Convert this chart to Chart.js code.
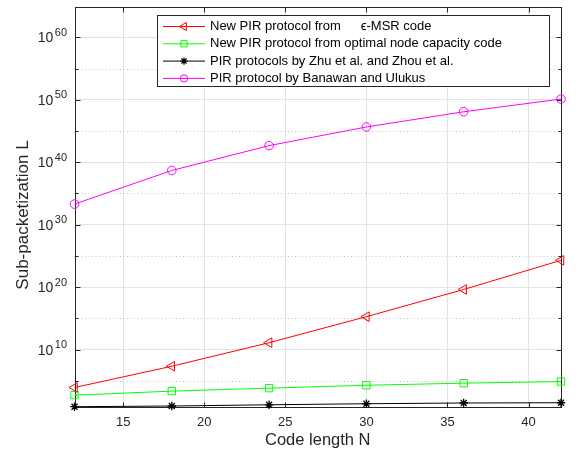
<!DOCTYPE html>
<html>
<head>
<meta charset="utf-8">
<script src="https://cdn.jsdelivr.net/npm/chart.js@4.4.1/dist/chart.umd.min.js"></script>
<style>
  html, body { margin: 0; padding: 0; background: #fff; }
  #wrap { width: 579px; height: 454px; }
</style>
</head>
<body>
<div id="wrap"><canvas id="pirChart" width="579" height="454"></canvas></div>
<script>
// data (sub-packetization L against code length N)
const codeLength = [12, 18, 24, 30, 36, 42];
const epsMsrL = [8.7e3, 2.2e7, 1.3e11, 1.9e15, 4.3e19, 2.0e24];
const nodeCapacityL = [5.2e2, 2.3e3, 6.9e3, 2.0e4, 4.3e4, 7.8e4];
const zhuZhouL = [7.4, 9.5, 15, 22, 29, 32];
const banawanL = [2.0e33, 4.8e38, 4.6e42, 4.4e45, 1.2e48, 1.3e50];

const xTicks = [15, 20, 25, 30, 35, 40];
const yMajorExp = [10, 20, 30, 40, 50, 60];
const yMinorExp = [5, 15, 25, 35, 45, 55];
const yRange = [7.4, 8.5e64];

const seriesNames = [
    'New PIR protocol from     ϵ-MSR code',
    'New PIR protocol from optimal node capacity code',
    'PIR protocols by Zhu et al. and Zhou et al.',
    'PIR protocol by Banawan and Ulukus'
];

const FONT = '"Liberation Sans", Arial, Helvetica, sans-serif';
const AXIS_COLOR = '#262626';

function series(label, values, color, style, radius, rotation, markerWidth) {
    return {
        label: label,
        data: codeLength.map((n, i) => ({ x: n, y: values[i] })),
        borderColor: color,
        backgroundColor: color,
        borderWidth: 1,
        tension: 0,
        pointStyle: style,
        pointRadius: radius,
        pointHoverRadius: radius,
        pointRotation: rotation || 0,
        pointBorderColor: color,
        pointBackgroundColor: 'rgba(0,0,0,0)',
        pointBorderWidth: markerWidth || 1,
        clip: false
    };
}

// marker for the hand drawn legend, same shapes as the points
function drawMarker(ctx, style, x, y, r, rotation) {
    ctx.beginPath();
    if (style === 'triangle') {
        const rad = rotation * Math.PI / 180;
        for (let k = 0; k < 3; k++) {
            const a = rad + k * 2 * Math.PI / 3;
            const px = x + Math.sin(a) * r, py = y - Math.cos(a) * r;
            k === 0 ? ctx.moveTo(px, py) : ctx.lineTo(px, py);
        }
        ctx.closePath();
    } else if (style === 'rect') {
        const s = Math.SQRT1_2 * r;
        ctx.rect(x - s, y - s, 2 * s, 2 * s);
    } else if (style === 'circle') {
        ctx.arc(x, y, r, 0, Math.PI * 2);
    } else if (style === 'star') {
        ctx.moveTo(x - r, y); ctx.lineTo(x + r, y);
        ctx.moveTo(x, y - r); ctx.lineTo(x, y + r);
        const d = r * Math.SQRT1_2;
        ctx.moveTo(x - d, y - d); ctx.lineTo(x + d, y + d);
        ctx.moveTo(x - d, y + d); ctx.lineTo(x + d, y - d);
    }
    ctx.stroke();
}

const datasets = [
    series(seriesNames[0], epsMsrL, '#ff0000', 'triangle', 5.5, -90),
    series(seriesNames[1], nodeCapacityL, '#00ff00', 'rect', 5.2, 0),
    series(seriesNames[2], zhuZhouL, '#000000', 'star', 4.2, 0, 1.3),
    series(seriesNames[3], banawanL, '#ff00ff', 'circle', 4.3, 0)
];

const matlabFrame = {
    id: 'matlabFrame',
    beforeDatasetsDraw(chart) {
        const { ctx, chartArea: a, scales } = chart;
        const x = scales.x, y = scales.y;
        ctx.save();
        // dotted minor grid
        ctx.strokeStyle = '#c2c2c2';
        ctx.lineWidth = 1;
        ctx.setLineDash([1, 2.5]);
        yMinorExp.forEach(e => {
            const py = Math.round(y.getPixelForValue(Math.pow(10, e))) + 0.5;
            ctx.beginPath();
            ctx.moveTo(a.left, py);
            ctx.lineTo(a.right, py);
            ctx.stroke();
        });
        ctx.setLineDash([]);

        // box and inward ticks
        ctx.strokeStyle = AXIS_COLOR;
        const L = Math.round(a.left) + 0.5, R = Math.round(a.right) + 0.5;
        const T = Math.round(a.top) + 0.5, B = Math.round(a.bottom) + 0.5;
        ctx.strokeRect(L, T, R - L, B - T);
        ctx.beginPath();
        xTicks.forEach(v => {
            const px = Math.round(x.getPixelForValue(v)) + 0.5;
            ctx.moveTo(px, B); ctx.lineTo(px, B - 5);
            ctx.moveTo(px, T); ctx.lineTo(px, T + 5);
        });
        yMajorExp.forEach(e => {
            const py = Math.round(y.getPixelForValue(Math.pow(10, e))) + 0.5;
            ctx.moveTo(L, py); ctx.lineTo(L + 5, py);
            ctx.moveTo(R, py); ctx.lineTo(R - 5, py);
        });
        yMinorExp.forEach(e => {
            const py = Math.round(y.getPixelForValue(Math.pow(10, e))) + 0.5;
            ctx.moveTo(L, py); ctx.lineTo(L + 3, py);
            ctx.moveTo(R, py); ctx.lineTo(R - 3, py);
        });
        ctx.stroke();
        ctx.restore();
    },
    afterDraw(chart) {
        const { ctx, scales } = chart;
        const y = scales.y;
        ctx.save();

        // y tick labels as 10 with a superscript exponent
        ctx.fillStyle = AXIS_COLOR;
        ctx.textBaseline = 'middle';
        yMajorExp.forEach(e => {
            const py = y.getPixelForValue(Math.pow(10, e));
            ctx.font = '11px ' + FONT;
            const sup = String(e);
            const supW = ctx.measureText(sup).width;
            const supX = 67 - supW;
            ctx.textAlign = 'left';
            ctx.fillText(sup, supX, py - 4.5);
            ctx.font = '14px ' + FONT;
            ctx.textAlign = 'right';
            ctx.fillText('10', supX - 1.5, py + 1);
        });

        // y axis title
        ctx.font = '17px ' + FONT;
        ctx.textAlign = 'center';
        ctx.translate(23, 215);
        ctx.rotate(-Math.PI / 2);
        ctx.fillText('Sub-packetization L', 0, 0);
        ctx.setTransform(1, 0, 0, 1, 0, 0);

        // legend box
        const box = { left: 157.5, top: 15.5, right: 549.5, bottom: 86.5 };
        ctx.fillStyle = '#ffffff';
        ctx.fillRect(box.left, box.top, box.right - box.left, box.bottom - box.top);
        ctx.strokeStyle = AXIS_COLOR;
        ctx.lineWidth = 1;
        ctx.strokeRect(box.left, box.top, box.right - box.left, box.bottom - box.top);

        chart.data.datasets.forEach((ds, i) => {
            const rowY = 26.5 + i * 17.3;
            ctx.strokeStyle = ds.borderColor;
            ctx.lineWidth = 1;
            ctx.beginPath();
            ctx.moveTo(163, rowY);
            ctx.lineTo(205, rowY);
            ctx.stroke();
            ctx.lineWidth = ds.pointBorderWidth;
            drawMarker(ctx, ds.pointStyle, 184, rowY, ds.pointRadius * 0.85, ds.pointRotation);

            ctx.fillStyle = '#000000';
            ctx.font = '13px ' + FONT;
            ctx.textAlign = 'left';
            ctx.textBaseline = 'middle';
            const parts = ds.label.split(/\s{2,}/);
            ctx.fillText(parts[0], 210, rowY);
            if (parts[1]) {
                const w = ctx.measureText(parts[0]).width;
                ctx.fillText(parts[1], 210 + w + 20, rowY);
            }
        });
        ctx.restore();
    }
};

new Chart(document.getElementById('pirChart'), {
    type: 'line',
    data: { datasets: datasets },
    options: {
        responsive: false,
        devicePixelRatio: 1,
        animation: false,
        events: [],
        layout: { padding: { left: 74.5, right: 18, top: 4, bottom: 1.7 } },
        plugins: {
            legend: { display: false },
            tooltip: { enabled: false }
        },
        scales: {
            x: {
                type: 'linear',
                min: 12,
                max: 42,
                afterBuildTicks: s => { s.ticks = xTicks.map(v => ({ value: v })); },
                grid: { color: '#e3e3e3', drawTicks: false },
                border: { display: false },
                ticks: {
                    color: AXIS_COLOR,
                    font: { family: FONT, size: 13 },
                    padding: 8,
                    maxRotation: 0,
                    autoSkip: false
                },
                title: {
                    display: true,
                    text: 'Code length N',
                    color: AXIS_COLOR,
                    font: { family: FONT, size: 16.5 },
                    padding: { top: -7.8, bottom: 2 }
                }
            },
            y: {
                type: 'logarithmic',
                min: yRange[0],
                max: yRange[1],
                afterBuildTicks: s => { s.ticks = yMajorExp.map(e => ({ value: Math.pow(10, e) })); },
                grid: { color: '#e3e3e3', drawTicks: false },
                border: { display: false },
                ticks: { display: false }
            }
        }
    },
    plugins: [matlabFrame]
});
</script>
</body>
</html>
